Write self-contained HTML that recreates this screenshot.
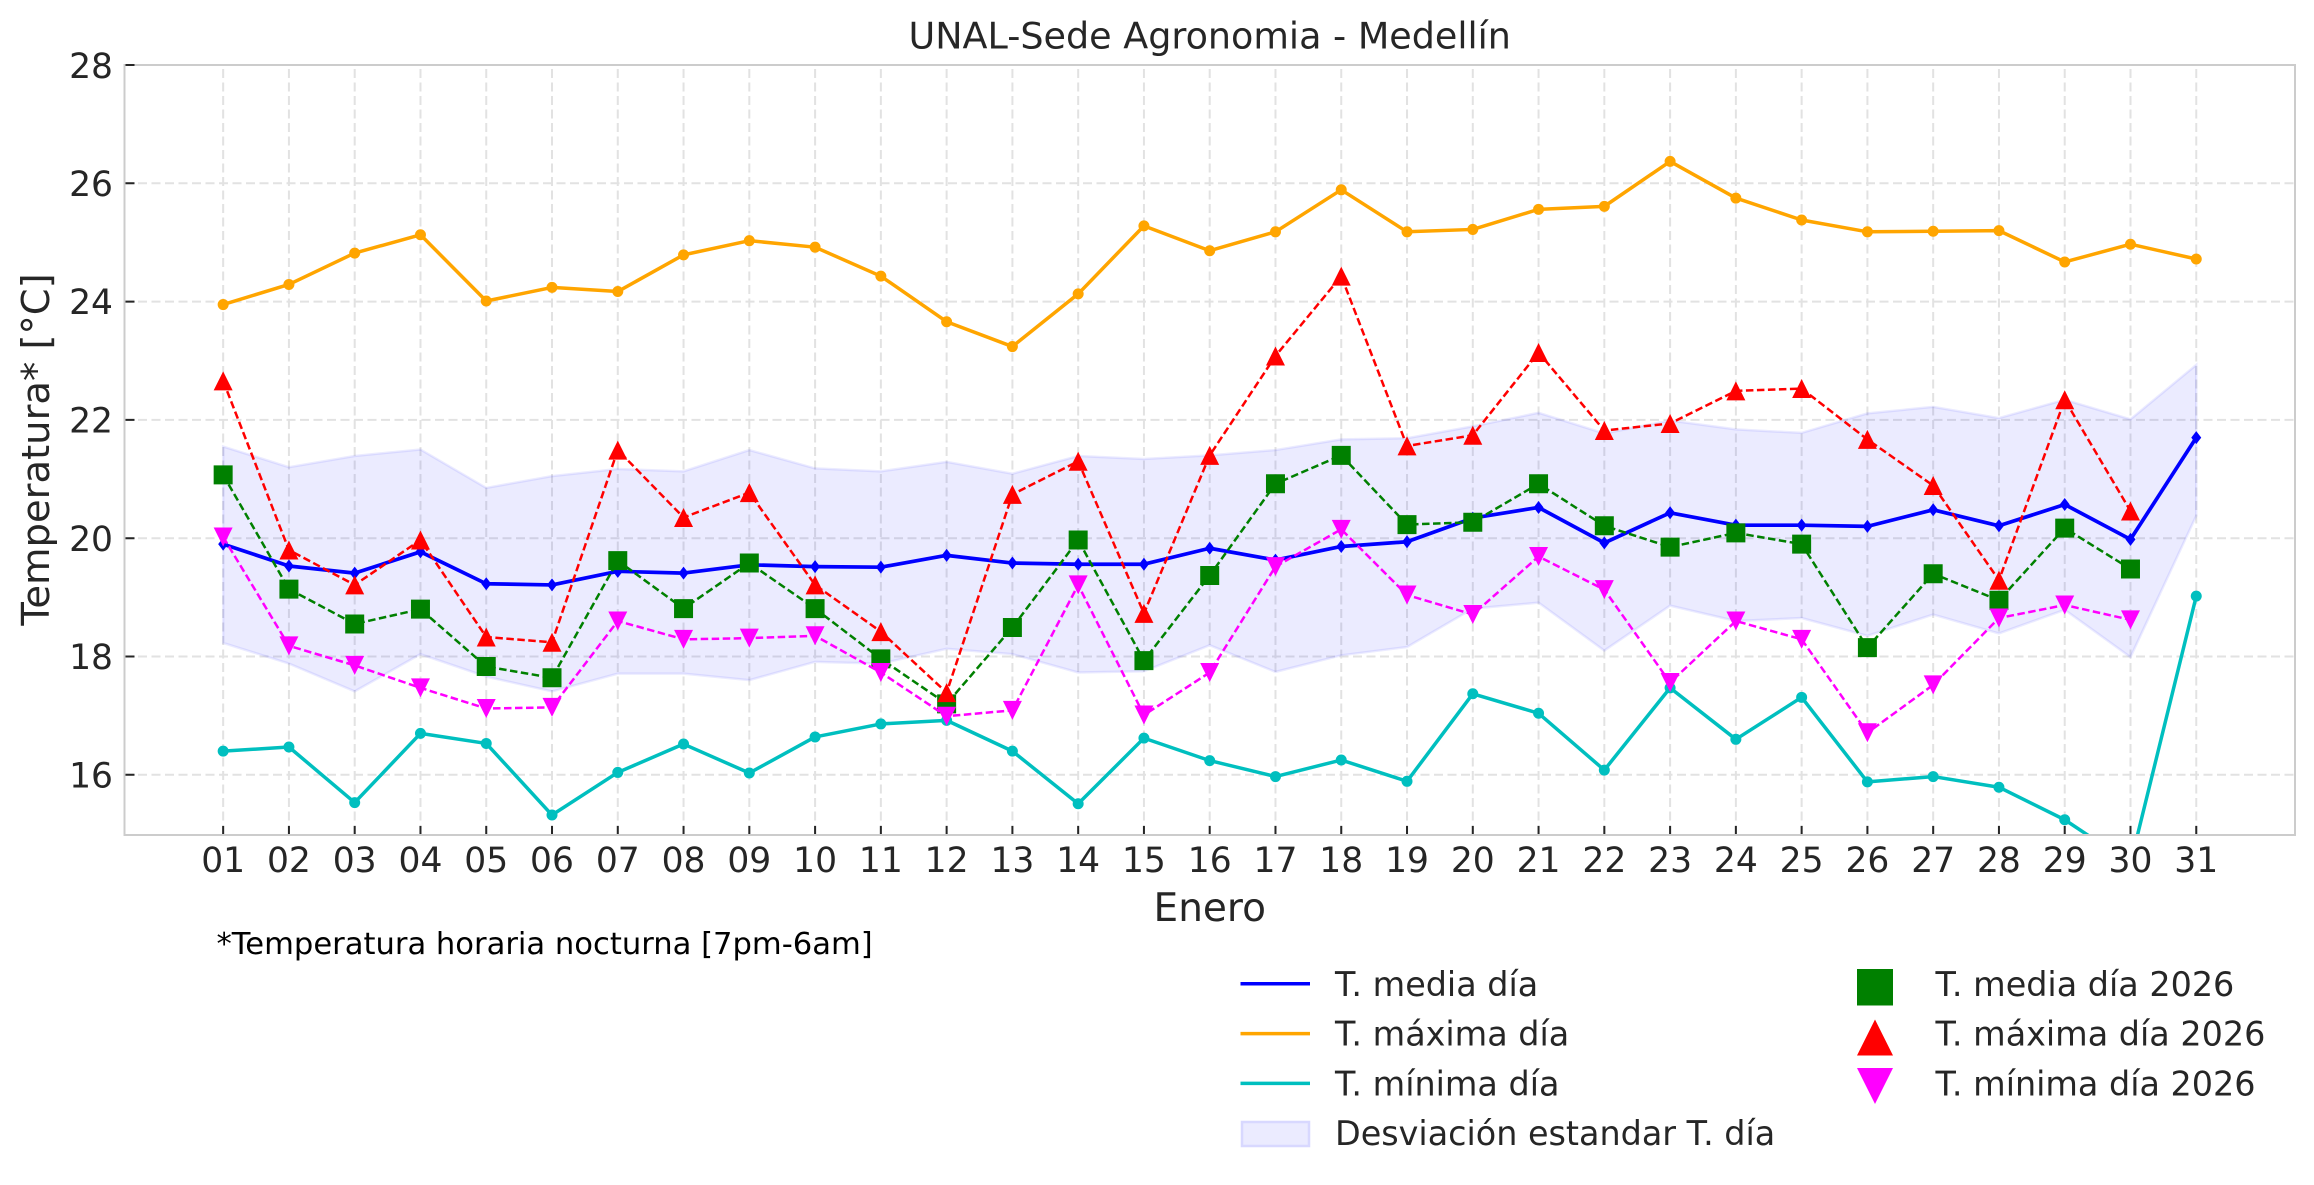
<!DOCTYPE html>
<html><head><meta charset="utf-8"><style>
html,body{margin:0;padding:0;background:#fff;}
svg{display:block;}
text{font-family:"DejaVu Sans","Liberation Sans",sans-serif;fill:#262626;}
</style></head><body>
<svg width="2314" height="1185" viewBox="0 0 2314 1185" xmlns="http://www.w3.org/2000/svg">
<defs><clipPath id="ax"><rect x="124.5" y="65" width="2170.5" height="769"/></clipPath></defs>
<rect width="2314" height="1185" fill="#fff"/>
<!-- grid -->
<g stroke="#e2e2e2" stroke-width="2" stroke-dasharray="9,4.5" fill="none">
<path d="M223.16,834V65M288.93,834V65M354.7,834V65M420.47,834V65M486.24,834V65M552.01,834V65M617.78,834V65M683.55,834V65M749.32,834V65M815.09,834V65M880.86,834V65M946.63,834V65M1012.4,834V65M1078.17,834V65M1143.94,834V65M1209.71,834V65M1275.48,834V65M1341.25,834V65M1407.02,834V65M1472.79,834V65M1538.56,834V65M1604.33,834V65M1670.1,834V65M1735.87,834V65M1801.64,834V65M1867.41,834V65M1933.18,834V65M1998.95,834V65M2064.72,834V65M2130.49,834V65M2196.26,834V65"/>
<path d="M124.5,774.8H2295M124.5,656.5H2295M124.5,538.2H2295M124.5,419.9H2295M124.5,301.6H2295M124.5,183.3H2295"/>
</g>
<g clip-path="url(#ax)">
<g transform="translate(157.385,1721.2) scale(65.77,-59.15)">
<!-- std band -->
<polygon vector-effect="non-scaling-stroke" fill="#0000ff" fill-opacity="0.08" stroke="#0000ff" stroke-opacity="0.08" stroke-width="2.5" points="1,21.55 2,21.20 3,21.39 4,21.50 5,20.85 6,21.05 7,21.17 8,21.13 9,21.49 10,21.18 11,21.13 12,21.29 13,21.09 14,21.39 15,21.34 16,21.40 17,21.49 18,21.67 19,21.69 20,21.89 21,22.12 22,21.77 23,21.99 24,21.84 25,21.78 26,22.11 27,22.22 28,22.03 29,22.34 30,22.01 31,22.93 31,20.38 30,17.99 29,18.79 28,18.39 27,18.71 26,18.35 25,18.65 24,18.60 23,18.86 22,18.10 21,18.91 20,18.81 19,18.16 18,18.02 17,17.74 16,18.19 15,17.75 14,17.73 13,18.04 12,18.13 11,17.88 10,17.91 9,17.60 8,17.71 7,17.71 6,17.41 5,17.66 4,18.04 3,17.41 2,17.88 1,18.23"/>
<!-- mean -->
<polyline vector-effect="non-scaling-stroke" fill="none" stroke="#0000ff" stroke-width="3.7" stroke-linejoin="round" points="1,19.90 2,19.53 3,19.41 4,19.77 5,19.23 6,19.21 7,19.44 8,19.41 9,19.55 10,19.52 11,19.51 12,19.71 13,19.58 14,19.56 15,19.56 16,19.83 17,19.63 18,19.86 19,19.94 20,20.34 21,20.52 22,19.92 23,20.43 24,20.22 25,20.22 26,20.20 27,20.48 28,20.21 29,20.57 30,19.98 31,21.70"/>
<path fill="#0000ff" d="M1,19.90m0,.1099l.076,-.1099l-.076,-.1099l-.076,.1099zM2,19.53m0,.1099l.076,-.1099l-.076,-.1099l-.076,.1099zM3,19.41m0,.1099l.076,-.1099l-.076,-.1099l-.076,.1099zM4,19.77m0,.1099l.076,-.1099l-.076,-.1099l-.076,.1099zM5,19.23m0,.1099l.076,-.1099l-.076,-.1099l-.076,.1099zM6,19.21m0,.1099l.076,-.1099l-.076,-.1099l-.076,.1099zM7,19.44m0,.1099l.076,-.1099l-.076,-.1099l-.076,.1099zM8,19.41m0,.1099l.076,-.1099l-.076,-.1099l-.076,.1099zM9,19.55m0,.1099l.076,-.1099l-.076,-.1099l-.076,.1099zM10,19.52m0,.1099l.076,-.1099l-.076,-.1099l-.076,.1099zM11,19.51m0,.1099l.076,-.1099l-.076,-.1099l-.076,.1099zM12,19.71m0,.1099l.076,-.1099l-.076,-.1099l-.076,.1099zM13,19.58m0,.1099l.076,-.1099l-.076,-.1099l-.076,.1099zM14,19.56m0,.1099l.076,-.1099l-.076,-.1099l-.076,.1099zM15,19.56m0,.1099l.076,-.1099l-.076,-.1099l-.076,.1099zM16,19.83m0,.1099l.076,-.1099l-.076,-.1099l-.076,.1099zM17,19.63m0,.1099l.076,-.1099l-.076,-.1099l-.076,.1099zM18,19.86m0,.1099l.076,-.1099l-.076,-.1099l-.076,.1099zM19,19.94m0,.1099l.076,-.1099l-.076,-.1099l-.076,.1099zM20,20.34m0,.1099l.076,-.1099l-.076,-.1099l-.076,.1099zM21,20.52m0,.1099l.076,-.1099l-.076,-.1099l-.076,.1099zM22,19.92m0,.1099l.076,-.1099l-.076,-.1099l-.076,.1099zM23,20.43m0,.1099l.076,-.1099l-.076,-.1099l-.076,.1099zM24,20.22m0,.1099l.076,-.1099l-.076,-.1099l-.076,.1099zM25,20.22m0,.1099l.076,-.1099l-.076,-.1099l-.076,.1099zM26,20.20m0,.1099l.076,-.1099l-.076,-.1099l-.076,.1099zM27,20.48m0,.1099l.076,-.1099l-.076,-.1099l-.076,.1099zM28,20.21m0,.1099l.076,-.1099l-.076,-.1099l-.076,.1099zM29,20.57m0,.1099l.076,-.1099l-.076,-.1099l-.076,.1099zM30,19.98m0,.1099l.076,-.1099l-.076,-.1099l-.076,.1099zM31,21.70m0,.1099l.076,-.1099l-.076,-.1099l-.076,.1099z"/>
<!-- max -->
<polyline vector-effect="non-scaling-stroke" fill="none" stroke="#ffa500" stroke-width="3.5" stroke-linejoin="round" points="1,23.95 2,24.29 3,24.82 4,25.13 5,24.01 6,24.24 7,24.17 8,24.79 9,25.03 10,24.92 11,24.43 12,23.66 13,23.24 14,24.13 15,25.28 16,24.86 17,25.18 18,25.89 19,25.18 20,25.22 21,25.56 22,25.61 23,26.37 24,25.75 25,25.38 26,25.18 27,25.19 28,25.20 29,24.67 30,24.97 31,24.72"/>
<path fill="#ffa500" d="M1,23.95m-.0836,0a.0836,.093 0 1 0 .1672,0a.0836,.093 0 1 0 -.1672,0zM2,24.29m-.0836,0a.0836,.093 0 1 0 .1672,0a.0836,.093 0 1 0 -.1672,0zM3,24.82m-.0836,0a.0836,.093 0 1 0 .1672,0a.0836,.093 0 1 0 -.1672,0zM4,25.13m-.0836,0a.0836,.093 0 1 0 .1672,0a.0836,.093 0 1 0 -.1672,0zM5,24.01m-.0836,0a.0836,.093 0 1 0 .1672,0a.0836,.093 0 1 0 -.1672,0zM6,24.24m-.0836,0a.0836,.093 0 1 0 .1672,0a.0836,.093 0 1 0 -.1672,0zM7,24.17m-.0836,0a.0836,.093 0 1 0 .1672,0a.0836,.093 0 1 0 -.1672,0zM8,24.79m-.0836,0a.0836,.093 0 1 0 .1672,0a.0836,.093 0 1 0 -.1672,0zM9,25.03m-.0836,0a.0836,.093 0 1 0 .1672,0a.0836,.093 0 1 0 -.1672,0zM10,24.92m-.0836,0a.0836,.093 0 1 0 .1672,0a.0836,.093 0 1 0 -.1672,0zM11,24.43m-.0836,0a.0836,.093 0 1 0 .1672,0a.0836,.093 0 1 0 -.1672,0zM12,23.66m-.0836,0a.0836,.093 0 1 0 .1672,0a.0836,.093 0 1 0 -.1672,0zM13,23.24m-.0836,0a.0836,.093 0 1 0 .1672,0a.0836,.093 0 1 0 -.1672,0zM14,24.13m-.0836,0a.0836,.093 0 1 0 .1672,0a.0836,.093 0 1 0 -.1672,0zM15,25.28m-.0836,0a.0836,.093 0 1 0 .1672,0a.0836,.093 0 1 0 -.1672,0zM16,24.86m-.0836,0a.0836,.093 0 1 0 .1672,0a.0836,.093 0 1 0 -.1672,0zM17,25.18m-.0836,0a.0836,.093 0 1 0 .1672,0a.0836,.093 0 1 0 -.1672,0zM18,25.89m-.0836,0a.0836,.093 0 1 0 .1672,0a.0836,.093 0 1 0 -.1672,0zM19,25.18m-.0836,0a.0836,.093 0 1 0 .1672,0a.0836,.093 0 1 0 -.1672,0zM20,25.22m-.0836,0a.0836,.093 0 1 0 .1672,0a.0836,.093 0 1 0 -.1672,0zM21,25.56m-.0836,0a.0836,.093 0 1 0 .1672,0a.0836,.093 0 1 0 -.1672,0zM22,25.61m-.0836,0a.0836,.093 0 1 0 .1672,0a.0836,.093 0 1 0 -.1672,0zM23,26.37m-.0836,0a.0836,.093 0 1 0 .1672,0a.0836,.093 0 1 0 -.1672,0zM24,25.75m-.0836,0a.0836,.093 0 1 0 .1672,0a.0836,.093 0 1 0 -.1672,0zM25,25.38m-.0836,0a.0836,.093 0 1 0 .1672,0a.0836,.093 0 1 0 -.1672,0zM26,25.18m-.0836,0a.0836,.093 0 1 0 .1672,0a.0836,.093 0 1 0 -.1672,0zM27,25.19m-.0836,0a.0836,.093 0 1 0 .1672,0a.0836,.093 0 1 0 -.1672,0zM28,25.20m-.0836,0a.0836,.093 0 1 0 .1672,0a.0836,.093 0 1 0 -.1672,0zM29,24.67m-.0836,0a.0836,.093 0 1 0 .1672,0a.0836,.093 0 1 0 -.1672,0zM30,24.97m-.0836,0a.0836,.093 0 1 0 .1672,0a.0836,.093 0 1 0 -.1672,0zM31,24.72m-.0836,0a.0836,.093 0 1 0 .1672,0a.0836,.093 0 1 0 -.1672,0z"/>
<!-- min -->
<polyline vector-effect="non-scaling-stroke" fill="none" stroke="#00bfbf" stroke-width="3.5" stroke-linejoin="round" points="1,16.40 2,16.47 3,15.53 4,16.70 5,16.53 6,15.32 7,16.04 8,16.52 9,16.03 10,16.64 11,16.86 12,16.92 13,16.40 14,15.51 15,16.62 16,16.24 17,15.97 18,16.25 19,15.89 20,17.37 21,17.04 22,16.08 23,17.47 24,16.60 25,17.31 26,15.88 27,15.97 28,15.79 29,15.24 30,14.50 31,19.02"/>
<path fill="#00bfbf" d="M1,16.40m-.0836,0a.0836,.093 0 1 0 .1672,0a.0836,.093 0 1 0 -.1672,0zM2,16.47m-.0836,0a.0836,.093 0 1 0 .1672,0a.0836,.093 0 1 0 -.1672,0zM3,15.53m-.0836,0a.0836,.093 0 1 0 .1672,0a.0836,.093 0 1 0 -.1672,0zM4,16.70m-.0836,0a.0836,.093 0 1 0 .1672,0a.0836,.093 0 1 0 -.1672,0zM5,16.53m-.0836,0a.0836,.093 0 1 0 .1672,0a.0836,.093 0 1 0 -.1672,0zM6,15.32m-.0836,0a.0836,.093 0 1 0 .1672,0a.0836,.093 0 1 0 -.1672,0zM7,16.04m-.0836,0a.0836,.093 0 1 0 .1672,0a.0836,.093 0 1 0 -.1672,0zM8,16.52m-.0836,0a.0836,.093 0 1 0 .1672,0a.0836,.093 0 1 0 -.1672,0zM9,16.03m-.0836,0a.0836,.093 0 1 0 .1672,0a.0836,.093 0 1 0 -.1672,0zM10,16.64m-.0836,0a.0836,.093 0 1 0 .1672,0a.0836,.093 0 1 0 -.1672,0zM11,16.86m-.0836,0a.0836,.093 0 1 0 .1672,0a.0836,.093 0 1 0 -.1672,0zM12,16.92m-.0836,0a.0836,.093 0 1 0 .1672,0a.0836,.093 0 1 0 -.1672,0zM13,16.40m-.0836,0a.0836,.093 0 1 0 .1672,0a.0836,.093 0 1 0 -.1672,0zM14,15.51m-.0836,0a.0836,.093 0 1 0 .1672,0a.0836,.093 0 1 0 -.1672,0zM15,16.62m-.0836,0a.0836,.093 0 1 0 .1672,0a.0836,.093 0 1 0 -.1672,0zM16,16.24m-.0836,0a.0836,.093 0 1 0 .1672,0a.0836,.093 0 1 0 -.1672,0zM17,15.97m-.0836,0a.0836,.093 0 1 0 .1672,0a.0836,.093 0 1 0 -.1672,0zM18,16.25m-.0836,0a.0836,.093 0 1 0 .1672,0a.0836,.093 0 1 0 -.1672,0zM19,15.89m-.0836,0a.0836,.093 0 1 0 .1672,0a.0836,.093 0 1 0 -.1672,0zM20,17.37m-.0836,0a.0836,.093 0 1 0 .1672,0a.0836,.093 0 1 0 -.1672,0zM21,17.04m-.0836,0a.0836,.093 0 1 0 .1672,0a.0836,.093 0 1 0 -.1672,0zM22,16.08m-.0836,0a.0836,.093 0 1 0 .1672,0a.0836,.093 0 1 0 -.1672,0zM23,17.47m-.0836,0a.0836,.093 0 1 0 .1672,0a.0836,.093 0 1 0 -.1672,0zM24,16.60m-.0836,0a.0836,.093 0 1 0 .1672,0a.0836,.093 0 1 0 -.1672,0zM25,17.31m-.0836,0a.0836,.093 0 1 0 .1672,0a.0836,.093 0 1 0 -.1672,0zM26,15.88m-.0836,0a.0836,.093 0 1 0 .1672,0a.0836,.093 0 1 0 -.1672,0zM27,15.97m-.0836,0a.0836,.093 0 1 0 .1672,0a.0836,.093 0 1 0 -.1672,0zM28,15.79m-.0836,0a.0836,.093 0 1 0 .1672,0a.0836,.093 0 1 0 -.1672,0zM29,15.24m-.0836,0a.0836,.093 0 1 0 .1672,0a.0836,.093 0 1 0 -.1672,0zM31,19.02m-.0836,0a.0836,.093 0 1 0 .1672,0a.0836,.093 0 1 0 -.1672,0z"/>
<!-- media 2026 -->
<polyline vector-effect="non-scaling-stroke" fill="none" stroke="#008000" stroke-width="2.5" stroke-dasharray="7.5,3.5" points="1,21.07 2,19.14 3,18.55 4,18.80 5,17.83 6,17.64 7,19.62 8,18.81 9,19.58 10,18.81 11,17.96 12,17.20 13,18.49 14,19.97 15,17.93 16,19.37 17,20.92 18,21.40 19,20.23 20,20.27 21,20.92 22,20.21 23,19.85 24,20.09 25,19.90 26,18.15 27,19.40 28,18.95 29,20.17 30,19.48"/>
<path fill="#008000" d="M1,21.07m-.1444,-.1606h.2888v.3212h-.2888zM2,19.14m-.1444,-.1606h.2888v.3212h-.2888zM3,18.55m-.1444,-.1606h.2888v.3212h-.2888zM4,18.80m-.1444,-.1606h.2888v.3212h-.2888zM5,17.83m-.1444,-.1606h.2888v.3212h-.2888zM6,17.64m-.1444,-.1606h.2888v.3212h-.2888zM7,19.62m-.1444,-.1606h.2888v.3212h-.2888zM8,18.81m-.1444,-.1606h.2888v.3212h-.2888zM9,19.58m-.1444,-.1606h.2888v.3212h-.2888zM10,18.81m-.1444,-.1606h.2888v.3212h-.2888zM11,17.96m-.1444,-.1606h.2888v.3212h-.2888zM12,17.20m-.1444,-.1606h.2888v.3212h-.2888zM13,18.49m-.1444,-.1606h.2888v.3212h-.2888zM14,19.97m-.1444,-.1606h.2888v.3212h-.2888zM15,17.93m-.1444,-.1606h.2888v.3212h-.2888zM16,19.37m-.1444,-.1606h.2888v.3212h-.2888zM17,20.92m-.1444,-.1606h.2888v.3212h-.2888zM18,21.40m-.1444,-.1606h.2888v.3212h-.2888zM19,20.23m-.1444,-.1606h.2888v.3212h-.2888zM20,20.27m-.1444,-.1606h.2888v.3212h-.2888zM21,20.92m-.1444,-.1606h.2888v.3212h-.2888zM22,20.21m-.1444,-.1606h.2888v.3212h-.2888zM23,19.85m-.1444,-.1606h.2888v.3212h-.2888zM24,20.09m-.1444,-.1606h.2888v.3212h-.2888zM25,19.90m-.1444,-.1606h.2888v.3212h-.2888zM26,18.15m-.1444,-.1606h.2888v.3212h-.2888zM27,19.40m-.1444,-.1606h.2888v.3212h-.2888zM28,18.95m-.1444,-.1606h.2888v.3212h-.2888zM29,20.17m-.1444,-.1606h.2888v.3212h-.2888zM30,19.48m-.1444,-.1606h.2888v.3212h-.2888z"/>
<!-- max 2026 -->
<polyline vector-effect="non-scaling-stroke" fill="none" stroke="#ff0000" stroke-width="2.5" stroke-dasharray="7.5,3.5" points="1,22.66 2,19.80 3,19.21 4,19.97 5,18.33 6,18.24 7,21.49 8,20.35 9,20.77 10,19.21 11,18.42 12,17.39 13,20.74 14,21.30 15,18.73 16,21.40 17,23.08 18,24.43 19,21.56 20,21.74 21,23.14 22,21.82 23,21.94 24,22.49 25,22.53 26,21.67 27,20.89 28,19.29 29,22.34 30,20.46"/>
<path fill="#ff0000" d="M1,22.66m0,.1606l.1444,-.3212h-.2888zM2,19.80m0,.1606l.1444,-.3212h-.2888zM3,19.21m0,.1606l.1444,-.3212h-.2888zM4,19.97m0,.1606l.1444,-.3212h-.2888zM5,18.33m0,.1606l.1444,-.3212h-.2888zM6,18.24m0,.1606l.1444,-.3212h-.2888zM7,21.49m0,.1606l.1444,-.3212h-.2888zM8,20.35m0,.1606l.1444,-.3212h-.2888zM9,20.77m0,.1606l.1444,-.3212h-.2888zM10,19.21m0,.1606l.1444,-.3212h-.2888zM11,18.42m0,.1606l.1444,-.3212h-.2888zM12,17.39m0,.1606l.1444,-.3212h-.2888zM13,20.74m0,.1606l.1444,-.3212h-.2888zM14,21.30m0,.1606l.1444,-.3212h-.2888zM15,18.73m0,.1606l.1444,-.3212h-.2888zM16,21.40m0,.1606l.1444,-.3212h-.2888zM17,23.08m0,.1606l.1444,-.3212h-.2888zM18,24.43m0,.1606l.1444,-.3212h-.2888zM19,21.56m0,.1606l.1444,-.3212h-.2888zM20,21.74m0,.1606l.1444,-.3212h-.2888zM21,23.14m0,.1606l.1444,-.3212h-.2888zM22,21.82m0,.1606l.1444,-.3212h-.2888zM23,21.94m0,.1606l.1444,-.3212h-.2888zM24,22.49m0,.1606l.1444,-.3212h-.2888zM25,22.53m0,.1606l.1444,-.3212h-.2888zM26,21.67m0,.1606l.1444,-.3212h-.2888zM27,20.89m0,.1606l.1444,-.3212h-.2888zM28,19.29m0,.1606l.1444,-.3212h-.2888zM29,22.34m0,.1606l.1444,-.3212h-.2888zM30,20.46m0,.1606l.1444,-.3212h-.2888z"/>
<!-- min 2026 -->
<polyline vector-effect="non-scaling-stroke" fill="none" stroke="#ff00ff" stroke-width="2.5" stroke-dasharray="7.5,3.5" points="1,20.02 2,18.18 3,17.85 4,17.47 5,17.12 6,17.14 7,18.60 8,18.29 9,18.31 10,18.35 11,17.73 12,16.99 13,17.09 14,19.21 15,17.01 16,17.73 17,19.52 18,20.15 19,19.04 20,18.71 21,19.69 22,19.13 23,17.56 24,18.60 25,18.29 26,16.71 27,17.52 28,18.65 29,18.87 30,18.62"/>
<path fill="#ff00ff" d="M1,20.02m0,-.1606l.1444,.3212h-.2888zM2,18.18m0,-.1606l.1444,.3212h-.2888zM3,17.85m0,-.1606l.1444,.3212h-.2888zM4,17.47m0,-.1606l.1444,.3212h-.2888zM5,17.12m0,-.1606l.1444,.3212h-.2888zM6,17.14m0,-.1606l.1444,.3212h-.2888zM7,18.60m0,-.1606l.1444,.3212h-.2888zM8,18.29m0,-.1606l.1444,.3212h-.2888zM9,18.31m0,-.1606l.1444,.3212h-.2888zM10,18.35m0,-.1606l.1444,.3212h-.2888zM11,17.73m0,-.1606l.1444,.3212h-.2888zM12,16.99m0,-.1606l.1444,.3212h-.2888zM13,17.09m0,-.1606l.1444,.3212h-.2888zM14,19.21m0,-.1606l.1444,.3212h-.2888zM15,17.01m0,-.1606l.1444,.3212h-.2888zM16,17.73m0,-.1606l.1444,.3212h-.2888zM17,19.52m0,-.1606l.1444,.3212h-.2888zM18,20.15m0,-.1606l.1444,.3212h-.2888zM19,19.04m0,-.1606l.1444,.3212h-.2888zM20,18.71m0,-.1606l.1444,.3212h-.2888zM21,19.69m0,-.1606l.1444,.3212h-.2888zM22,19.13m0,-.1606l.1444,.3212h-.2888zM23,17.56m0,-.1606l.1444,.3212h-.2888zM24,18.60m0,-.1606l.1444,.3212h-.2888zM25,18.29m0,-.1606l.1444,.3212h-.2888zM26,16.71m0,-.1606l.1444,.3212h-.2888zM27,17.52m0,-.1606l.1444,.3212h-.2888zM28,18.65m0,-.1606l.1444,.3212h-.2888zM29,18.87m0,-.1606l.1444,.3212h-.2888zM30,18.62m0,-.1606l.1444,.3212h-.2888z"/>
</g>
</g>
<!-- spines -->
<rect x="124.5" y="65" width="2170.5" height="770" fill="none" stroke="#cccccc" stroke-width="2"/>
<!-- ticks -->
<g stroke="#262626" stroke-width="2" fill="none">
<path d="M223.16,834v-8M288.93,834v-8M354.7,834v-8M420.47,834v-8M486.24,834v-8M552.01,834v-8M617.78,834v-8M683.55,834v-8M749.32,834v-8M815.09,834v-8M880.86,834v-8M946.63,834v-8M1012.4,834v-8M1078.17,834v-8M1143.94,834v-8M1209.71,834v-8M1275.48,834v-8M1341.25,834v-8M1407.02,834v-8M1472.79,834v-8M1538.56,834v-8M1604.33,834v-8M1670.1,834v-8M1735.87,834v-8M1801.64,834v-8M1867.41,834v-8M1933.18,834v-8M1998.95,834v-8M2064.72,834v-8M2130.49,834v-8M2196.26,834v-8"/>
<path d="M125.5,774.8h9M125.5,656.5h9M125.5,538.2h9M125.5,419.9h9M125.5,301.6h9M125.5,183.3h9M125.5,65h9"/>
</g>
<!-- y tick labels -->
<g font-size="34.5" text-anchor="end">
<text x="113" y="787.4">16</text>
<text x="113" y="669.1">18</text>
<text x="113" y="550.8">20</text>
<text x="113" y="432.5">22</text>
<text x="113" y="314.2">24</text>
<text x="113" y="195.9">26</text>
<text x="113" y="77.8">28</text>
</g>
<!-- x tick labels -->
<g font-size="34.5" text-anchor="middle">
<text x="223.16" y="872">01</text><text x="288.93" y="872">02</text><text x="354.7" y="872">03</text><text x="420.47" y="872">04</text><text x="486.24" y="872">05</text><text x="552.01" y="872">06</text><text x="617.78" y="872">07</text><text x="683.55" y="872">08</text><text x="749.32" y="872">09</text><text x="815.09" y="872">10</text><text x="880.86" y="872">11</text><text x="946.63" y="872">12</text><text x="1012.4" y="872">13</text><text x="1078.17" y="872">14</text><text x="1143.94" y="872">15</text><text x="1209.71" y="872">16</text><text x="1275.48" y="872">17</text><text x="1341.25" y="872">18</text><text x="1407.02" y="872">19</text><text x="1472.79" y="872">20</text><text x="1538.56" y="872">21</text><text x="1604.33" y="872">22</text><text x="1670.1" y="872">23</text><text x="1735.87" y="872">24</text><text x="1801.64" y="872">25</text><text x="1867.41" y="872">26</text><text x="1933.18" y="872">27</text><text x="1998.95" y="872">28</text><text x="2064.72" y="872">29</text><text x="2130.49" y="872">30</text><text x="2196.26" y="872">31</text>
</g>
<!-- title & labels -->
<text x="1209.75" y="48.3" font-size="36.5" text-anchor="middle">UNAL-Sede Agronomia - Medellín</text>
<text x="1209.75" y="921" font-size="39" text-anchor="middle">Enero</text>
<text transform="translate(49,449.5) rotate(-90)" font-size="38.5" text-anchor="middle">Temperatura* [°C]</text>
<text x="216.5" y="954" font-size="30.6" style="fill:#000">*Temperatura horaria nocturna [7pm-6am]</text>
<!-- legend -->
<g>
<line x1="1240.5" y1="983.8" x2="1310" y2="983.8" stroke="#0000ff" stroke-width="3.5"/>
<line x1="1240.5" y1="1033.6" x2="1310" y2="1033.6" stroke="#ffa500" stroke-width="3.5"/>
<line x1="1240.5" y1="1083.4" x2="1310" y2="1083.4" stroke="#00bfbf" stroke-width="3.5"/>
<rect x="1242" y="1122" width="67" height="24" fill="#ebebff" stroke="#d8d8ff" stroke-width="2.5"/>
<rect x="1857" y="969" width="36" height="36.5" fill="#008000"/>
<path d="M1875,1019.5L1893,1055.5H1857Z" fill="#ff0000"/>
<path d="M1875,1104L1893,1068H1857Z" fill="#ff00ff"/>
<g font-size="33.4">
<text x="1335" y="995.8">T. media día</text>
<text x="1335" y="1045.6">T. máxima día</text>
<text x="1335" y="1095.4">T. mínima día</text>
<text x="1335" y="1145.2">Desviación estandar T. día</text>
<text x="1935.5" y="995.8">T. media día 2026</text>
<text x="1935.5" y="1045.6">T. máxima día 2026</text>
<text x="1935.5" y="1095.4">T. mínima día 2026</text>
</g>
</g>
</svg>
</body></html>
